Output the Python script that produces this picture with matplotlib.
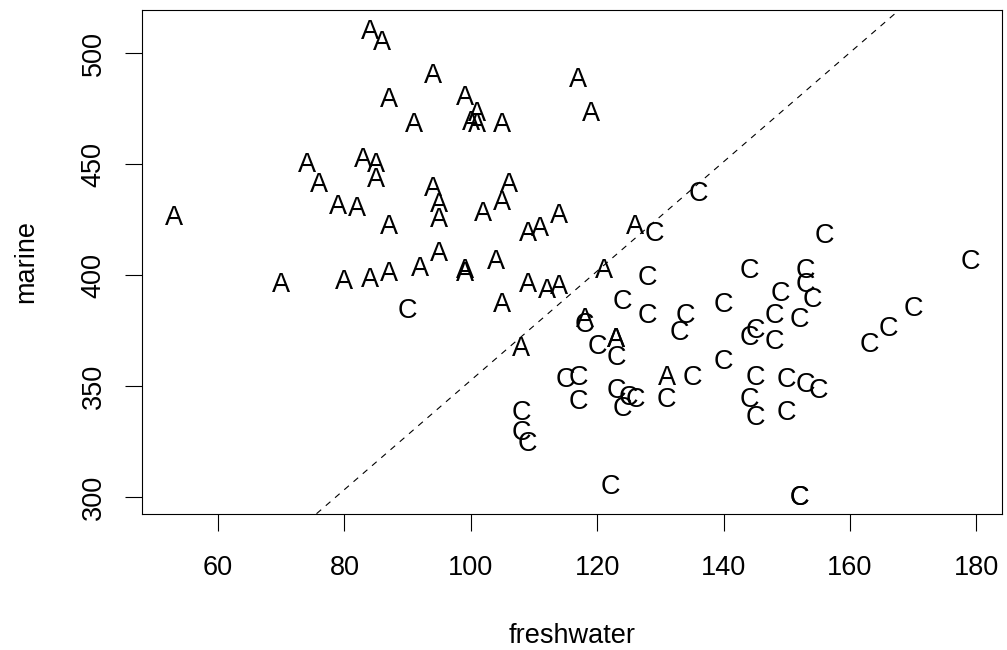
import matplotlib
matplotlib.use("Agg")
import matplotlib.pyplot as plt

# salmon growth-ring data: Alaskan (A) and Canadian (C)
alaska_fresh = [108, 131, 105, 86, 99, 87, 94, 117, 79, 99, 114, 123, 123, 109, 112, 104, 111, 126, 105, 119,
                114, 100, 84, 102, 101, 85, 109, 106, 82, 118, 105, 121, 85, 83, 53, 95, 76, 95, 87, 70,
                84, 91, 74, 101, 80, 95, 92, 99, 94, 87]
alaska_marine = [368, 355, 469, 506, 402, 423, 440, 489, 432, 403, 428, 372, 372, 420, 394, 407, 422, 423, 434, 474,
                 396, 470, 399, 429, 469, 444, 397, 442, 431, 381, 388, 403, 451, 453, 427, 411, 442, 426, 402, 397,
                 511, 469, 451, 474, 398, 433, 404, 481, 491, 480]
canada_fresh = [129, 148, 179, 152, 166, 124, 156, 131, 140, 144, 149, 108, 135, 170, 152, 153, 152, 136, 122, 148,
                90, 145, 123, 145, 115, 134, 117, 126, 118, 120, 153, 150, 154, 155, 109, 117, 128, 144, 163, 145,
                133, 128, 123, 144, 140, 150, 124, 125, 153, 108]
canada_marine = [420, 371, 407, 381, 377, 389, 419, 345, 362, 345, 393, 330, 355, 386, 301, 397, 301, 438, 306, 383,
                 385, 337, 364, 376, 354, 383, 355, 345, 379, 369, 403, 354, 390, 349, 325, 344, 400, 403, 370, 355,
                 375, 383, 349, 373, 388, 339, 341, 346, 352, 339]

# discriminant boundary
line_intercept = 106.6
line_slope = 2.461

x_ticks = [60, 80, 100, 120, 140, 160, 180]
y_ticks = [300, 350, 400, 450, 500]

FS = 19.5
FONT = "Liberation Sans"

fig = plt.figure(figsize=(10.07, 6.5), dpi=100)
ax = fig.add_axes([0.141, 0.2097, 0.854, 0.7746])

# R-style 4% padding around the data range
allx = alaska_fresh + canada_fresh
ally = alaska_marine + canada_marine
dx = (max(allx) - min(allx)) * 0.04
dy = (max(ally) - min(ally)) * 0.04
ax.set_xlim(min(allx) - dx, max(allx) + dx)
ax.set_ylim(min(ally) - dy, max(ally) + dy)

for xs, ys, lab in [(alaska_fresh, alaska_marine, "A"), (canada_fresh, canada_marine, "C")]:
    for x, y in zip(xs, ys):
        ax.annotate(lab, (x, y), xytext=(0, -7), textcoords="offset points",
                    ha="center", va="baseline", fontsize=FS, family=FONT)

ax.axline((0, line_intercept), slope=line_slope, color="black", lw=0.8, dashes=(5.5, 5.5))

ax.set_xticks(x_ticks)
ax.set_yticks(y_ticks)
ax.set_xticklabels([str(v) for v in x_ticks], fontsize=FS, family=FONT)
ax.set_yticklabels([str(v) for v in y_ticks], fontsize=FS, family=FONT, rotation=90, va="center")
ax.tick_params(length=12.5, width=0.8, direction="out")
ax.tick_params(axis="x", pad=17.5)
ax.tick_params(axis="y", pad=13)
for s in ax.spines.values():
    s.set_linewidth(0.8)

ax.set_xlabel("freshwater", fontsize=FS, family=FONT, va="baseline")
ax.xaxis.set_label_coords(0.5, -0.2568)
ax.set_ylabel("marine", fontsize=FS, family=FONT, va="baseline")
ax.yaxis.set_label_coords(-0.1267, 0.5)

fig.savefig("out.png", dpi=100)
